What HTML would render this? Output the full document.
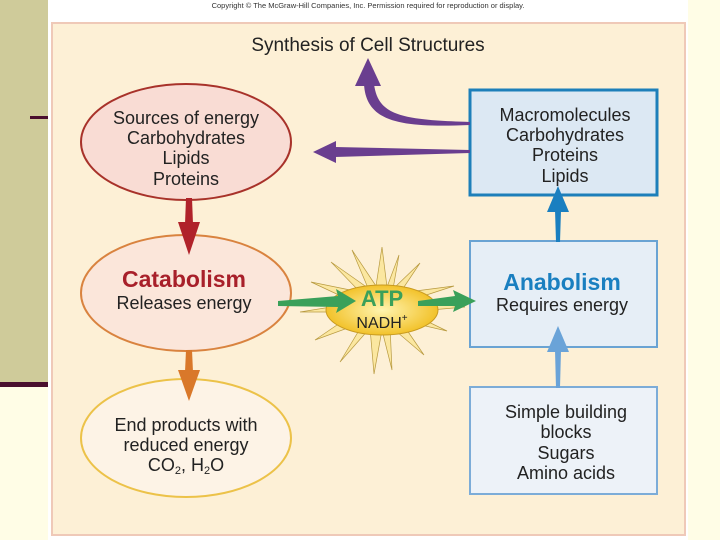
<!DOCTYPE html>
<html><head><meta charset="utf-8"><style>
body{margin:0;width:720px;height:540px;background:#fffde6;overflow:hidden;position:relative;font-family:"Liberation Sans",sans-serif}
</style></head><body>
<div style="position:absolute;left:0;top:0;width:48px;height:383px;background:#cfcb9a"></div>
<div style="position:absolute;left:0;top:382px;width:48px;height:5px;background:#4a0f2e"></div>
<div style="position:absolute;left:30px;top:116px;width:18px;height:3px;background:#4a0f2e"></div>
<svg width="720" height="540" style="position:absolute;left:0;top:0">
<defs>
<radialGradient id="g1" cx="50%" cy="50%" r="50%"><stop offset="0" stop-color="#fff4b0"/><stop offset="1" stop-color="#f2c22a"/></radialGradient>
</defs>
<rect x="48" y="0" width="640" height="540" fill="#fff"/>
<text x="368" y="8" font-size="7.5" text-anchor="middle" fill="#333">Copyright © The McGraw-Hill Companies, Inc. Permission required for reproduction or display.</text>
<rect x="52" y="23" width="633" height="512" fill="#fdf0d6" stroke="#efc9b8" stroke-width="2"/>
<text x="368" y="51" font-size="19" text-anchor="middle" fill="#222">Synthesis of Cell Structures</text>
<ellipse cx="186" cy="142" rx="105" ry="58" fill="#f9dcd4" stroke="#a8322a" stroke-width="2"/>
<ellipse cx="186" cy="293" rx="105" ry="58" fill="#fbe6da" stroke="#d9833f" stroke-width="2"/>
<ellipse cx="186" cy="438" rx="105" ry="59" fill="#fdf3e6" stroke="#ecc249" stroke-width="2"/>
<rect x="470" y="90" width="187" height="105" fill="#dce8f3" stroke="#1d7fba" stroke-width="3"/>
<rect x="470" y="241" width="187" height="106" fill="#e6eef6" stroke="#6aa3d3" stroke-width="2"/>
<rect x="470" y="387" width="187" height="107" fill="#edf2f8" stroke="#7cacd8" stroke-width="2"/>
<!-- purple arrows -->
<path d="M470 122 C400 120 378 115 374 84 L364 84 C366 122 400 128 470 125Z" fill="#6a3e8f"/>
<polygon points="368,58 355,86 381,86" fill="#6a3e8f"/>
<polygon points="470,150 335,147 335,157 470,153" fill="#6a3e8f"/>
<polygon points="313,152 336,141 336,163" fill="#6a3e8f"/>
<!-- red -->
<polygon points="186,198 192,198 193,224 185,224" fill="#b0222a"/>
<polygon points="178,222 200,222 189,255" fill="#b0222a"/>
<!-- orange -->
<polygon points="186,350 192,350 193,372 185,372" fill="#d9782a"/>
<polygon points="178,370 200,370 189,401" fill="#d9782a"/>
<!-- blue -->
<polygon points="555,210 561,210 560,242 556,242" fill="#1a7fc0"/>
<polygon points="547,212 569,212 558,186" fill="#1a7fc0"/>
<polygon points="555,350 561,350 560,388 556,388" fill="#6aa3d8"/>
<polygon points="547,352 569,352 558,326" fill="#6aa3d8"/>
<!-- star -->
<polygon stroke="#b89a40" stroke-width="0.7" fill="#fbe7a0" points="382,247 387,287 399,255 393,289 420,263 400,293 454,286 408,301 465,307 408,312 447,331 400,320 424,355 390,326 392,370 382,330 374,374 370,328 340,362 364,322 315,340 356,312 300,312 356,303 311,282 360,292 331,262 368,288 352,250 376,286"/>
<ellipse cx="382" cy="310" rx="56" ry="25" fill="url(#g1)" stroke="#c89a20" stroke-width="1"/>
<polygon points="278,301 338,296 336,289 356,301 336,313 338,307 278,306" fill="#3aa05a"/>
<polygon points="418,301 455,296 453,290 476,301 453,312 455,306 418,306" fill="#3aa05a"/>
<g font-size="18" fill="#222" text-anchor="middle">
<text x="186" y="124">Sources of energy</text>
<text x="186" y="144">Carbohydrates</text>
<text x="186" y="164">Lipids</text>
<text x="186" y="185">Proteins</text>
<text x="184" y="287" font-size="23" font-weight="bold" fill="#a8202a">Catabolism</text>
<text x="184" y="309">Releases energy</text>
<text x="186" y="431">End products with</text>
<text x="186" y="451">reduced energy</text>
<text x="186" y="471">CO<tspan font-size="11" dy="3">2</tspan><tspan dy="-3">, H</tspan><tspan font-size="11" dy="3">2</tspan><tspan dy="-3">O</tspan></text>
<text x="565" y="121">Macromolecules</text>
<text x="565" y="141">Carbohydrates</text>
<text x="565" y="161">Proteins</text>
<text x="565" y="182">Lipids</text>
<text x="562" y="290" font-size="23" font-weight="bold" fill="#1a7fc0">Anabolism</text>
<text x="562" y="311">Requires energy</text>
<text x="566" y="418">Simple building</text>
<text x="566" y="438">blocks</text>
<text x="566" y="459">Sugars</text>
<text x="566" y="479">Amino acids</text>
<text x="382" y="306" font-size="22" font-weight="bold" fill="#3aa05a">ATP</text>
<text x="382" y="328" font-size="16">NADH<tspan font-size="10" dy="-7">+</tspan></text>
</g>
</svg>
</body></html>
